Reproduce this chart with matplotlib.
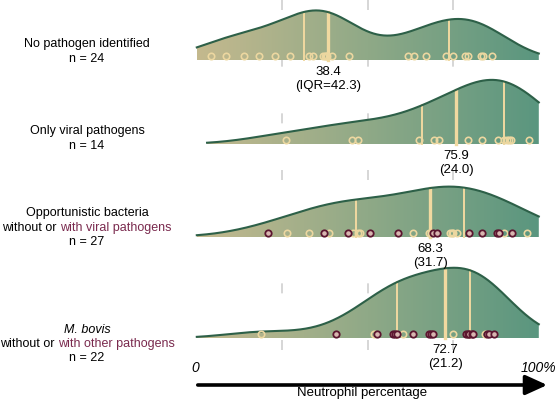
import numpy as np
import matplotlib.pyplot as plt
from matplotlib.colors import LinearSegmentedColormap
from matplotlib.patches import Polygon

plt.rcParams['font.family'] = ['Liberation Sans', 'DejaVu Sans']

# neutrophil % per animal
none_vals = [4.1, 8.4, 13.9, 18.3, 22.9, 27.3, 32.8, 33.9, 37.0, 37.5, 37.8, 38.2,
             39.4, 44.6, 61.9, 63.5, 66.9, 72.9, 75.0, 78.4, 79.2, 83.1, 83.6, 86.4]
viral_vals = [26.0, 45.5, 47.0, 65.0, 69.4, 70.9, 79.2, 83.3, 88.2, 89.9, 90.8,
              91.3, 91.9, 97.2]
opp_vals = [20.9, 26.5, 32.9, 37.3, 38.7, 44.1, 45.8, 47.2, 47.8, 50.6, 58.9, 63.1,
            68.0, 68.5, 69.2, 70.3, 74.0, 74.5, 75.0, 76.0, 79.7, 83.3, 87.9, 88.5,
            89.8, 92.1, 96.5]
opp_co = [1, 0, 0, 1, 0, 1, 0, 0, 0, 1, 1, 0,
          0, 0, 1, 1, 0, 0, 0, 0, 1, 1, 1, 1,
          0, 1, 0]
bovis_vals = [18.8, 40.7, 51.9, 52.6, 57.3, 57.9, 58.5, 60.4, 63.1, 68.0, 68.5,
              69.0, 75.0, 78.7, 79.2, 79.7, 80.4, 80.9, 84.3, 84.9, 85.5, 86.9]
bovis_co = [0, 1, 0, 1, 1, 1, 1, 0, 1, 1, 1,
            1, 0, 1, 1, 1, 1, 1, 0, 1, 1, 1]

medians = [38.4, 75.9, 68.3, 72.7]
q1s = [31.4, 65.9, 46.5, 58.6]
iqrs = [42.3, 24.0, 31.7, 21.2]
ns = [24, 14, 27, 22]
starts = [0, 3, 0, 0]
bws = [10.0, 12.0, 13.0, 10.5]

groups = [
    (none_vals, [0] * len(none_vals)),
    (viral_vals, [0] * len(viral_vals)),
    (opp_vals, opp_co),
    (bovis_vals, bovis_co),
]

W, H = 555, 399
X0, PX = 196.8, 3.42          # pixel of 0 %, pixels per %
baselines = [60, 144, 237, 338]

GREEN = '#2d6048'
TAN = '#f1d9a0'
MAROON = '#5c1630'
PURPLE = '#7a2a4e'
cmap = LinearSegmentedColormap.from_list('ridge', ['#c4b98e', '#8fa987', '#5a967f'])

fig = plt.figure(figsize=(W / 100, H / 100), dpi=100)
ax = fig.add_axes([0, 0, 1, 1])
ax.axis('off')
tx = fig.add_axes([0, 0, 1, 1], zorder=5)
tx.set_xlim(0, W)
tx.set_ylim(H, 0)
tx.axis('off')
tx.patch.set_alpha(0)

# dashed guide lines at 25/50/75
for g in (25, 50, 75):
    ax.plot([g, g], [0, 362], color='#d0d0d0', lw=1.2, dashes=(6, 28), zorder=0)


def kde(vals, grid, bw):
    v = np.asarray(vals)[:, None]
    z = (grid[None, :] - v) / bw
    return np.exp(-0.5 * z ** 2).sum(0) / (len(vals) * bw * np.sqrt(2 * np.pi))


SCALE = 3300
grad = np.linspace(0, 1, 256)[None, :]
for i, (vals, co) in enumerate(groups):
    b = baselines[i]
    grid = np.linspace(starts[i], 100, 400)
    d = kde(vals, grid, bws[i]) * SCALE
    top = b - d
    verts = np.vstack([np.column_stack([grid, top]),
                       np.column_stack([grid[::-1], np.full_like(grid, b)])])
    poly = Polygon(verts, closed=True, fc='none', ec='none', zorder=2 + i)
    ax.add_patch(poly)
    im = ax.imshow(grad, cmap=cmap, extent=[0, 100, b, top.min() - 2],
                   aspect='auto', zorder=2 + i, origin='lower')
    im.set_clip_path(poly)
    ax.plot(grid, top, color=GREEN, lw=1.5, zorder=2.3 + i)

    q1 = q1s[i]
    q3 = q1 + iqrs[i]
    for q, lw in ((q1, 1.4), (medians[i], 2.4), (q3, 1.4)):
        h = np.interp(q, grid, top)
        ax.plot([q, q], [b, h], color=TAN, lw=lw, zorder=2.2 + i)

    vals = np.asarray(vals)
    co = np.asarray(co, bool)
    ax.plot(vals[~co], np.full((~co).sum(), b - 4.5), 'o', ms=4.6, mew=1.2,
            mec='#ecd7a0', mfc='none', zorder=2.5 + i)
    if co.any():
        ax.plot(vals[co], np.full(co.sum(), b - 4.5), 'o', ms=4.6, mew=1.3,
                mec=MAROON, mfc='#d8b6b0', zorder=2.5 + i)

    lab = f"(IQR={iqrs[i]:.1f})" if i == 0 else f"({iqrs[i]:.1f})"
    ax.text(medians[i], b + 12, f"{medians[i]:.1f}", ha='center', va='center',
            fontsize=9.5, zorder=20)
    ax.text(medians[i], b + 26, lab, ha='center', va='center', fontsize=9.5, zorder=20)

ax.set_xlim(-X0 / PX, (W - X0) / PX)
ax.set_ylim(H, 0)

# left-hand labels
CX, FS = 87, 9.0


def two_tone(y, a, bpart):
    full = tx.text(CX, y, a + bpart, ha='center', va='center', fontsize=FS, alpha=0)
    fig.canvas.draw()
    x0 = full.get_window_extent().x0
    t1 = tx.text(x0, y, a, ha='left', va='center', fontsize=FS)
    fig.canvas.draw()
    x1 = t1.get_window_extent().x1
    tx.text(x1, y, bpart, ha='left', va='center', fontsize=FS, color=PURPLE)


tx.text(CX, 44, "No pathogen identified", ha='center', va='center', fontsize=FS)
tx.text(CX, 59, f"n = {ns[0]}", ha='center', va='center', fontsize=FS)
tx.text(CX, 131, "Only viral pathogens", ha='center', va='center', fontsize=FS)
tx.text(CX, 146, f"n = {ns[1]}", ha='center', va='center', fontsize=FS)
tx.text(CX, 213, "Opportunistic bacteria", ha='center', va='center', fontsize=FS)
two_tone(228, "without or ", "with viral pathogens")
tx.text(CX, 242, f"n = {ns[2]}", ha='center', va='center', fontsize=FS)
tx.text(CX, 330, "M. bovis", ha='center', va='center', fontsize=FS, style='italic')
two_tone(344, "without or ", "with other pathogens")
tx.text(CX, 358, f"n = {ns[3]}", ha='center', va='center', fontsize=FS)

# axis annotation
tx.text(195, 368, "0", ha='center', va='center', fontsize=10, style='italic')
tx.text(556, 368, "100%", ha='right', va='center', fontsize=10, style='italic')
tx.annotate('', xy=(550, 385), xytext=(195, 385),
            arrowprops=dict(arrowstyle='-|>,head_length=1.1,head_width=0.5',
                            lw=2.6, color='black', mutation_scale=12))
tx.text(362, 393, "Neutrophil percentage", ha='center', va='center', fontsize=9.5)

fig.savefig('out.png', dpi=100)
